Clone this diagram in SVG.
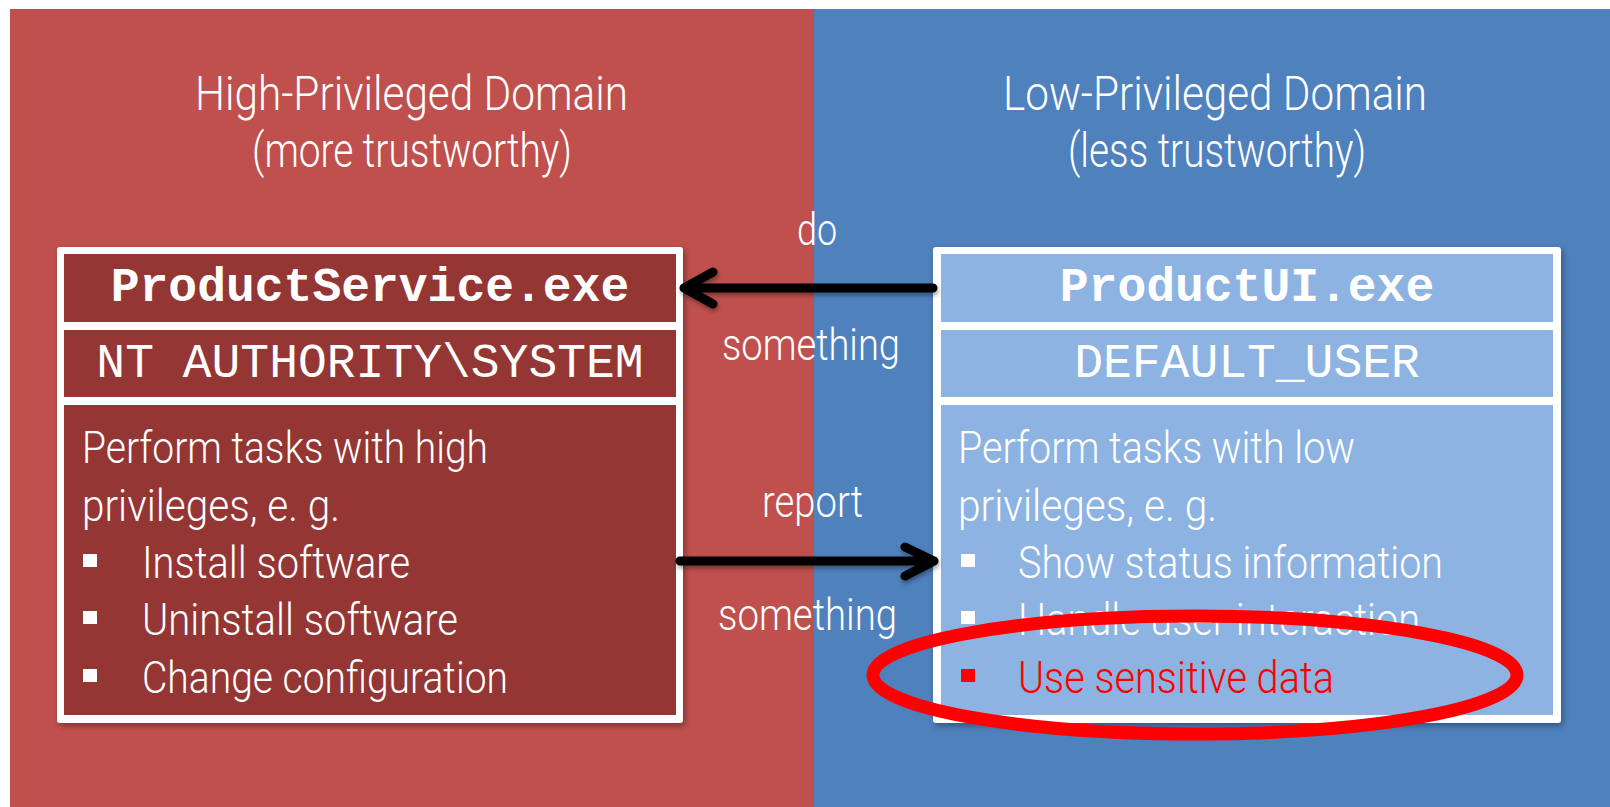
<svg xmlns="http://www.w3.org/2000/svg" width="1610" height="807" viewBox="0 0 1610 807">
<style>
.sans{font-family:Roboto,"Liberation Sans",sans-serif;font-weight:300;fill:#fff;}
.title{font-size:48px;}
.lbl{font-size:44px;}
.body{font-size:44px;}
.mono{font-family:"Liberation Mono","Courier New",monospace;font-size:48px;fill:#fff;text-anchor:middle;}
.bold{font-weight:bold;}
.outer{fill:#fff;}
.hi{fill:#943634;}
.lo{fill:#8DB3E2;}
.bul{fill:#fff;}
.conn{stroke:#000;stroke-width:9;fill:none;stroke-linecap:round;stroke-linejoin:round;}
</style>
<defs>
<filter id="shadow" x="-5%" y="-5%" width="110%" height="115%">
<feDropShadow dx="2" dy="3" stdDeviation="3" flood-color="#000" flood-opacity="0.35"/>
</filter>
<filter id="ashadow" x="-5%" y="-50%" width="110%" height="200%">
<feDropShadow dx="1" dy="3" stdDeviation="2" flood-color="#000" flood-opacity="0.35"/>
</filter>
</defs>
<rect x="0" y="0" width="1610" height="807" fill="#fff"/>
<g id="domain-high">
<rect x="10" y="9" width="804" height="798" fill="#C0504D"/>
<text class="sans title" x="195" y="110" textLength="433" lengthAdjust="spacingAndGlyphs">High-Privileged Domain</text>
<text class="sans title" x="252" y="167" textLength="320" lengthAdjust="spacingAndGlyphs">(more trustworthy)</text>
</g>
<g id="domain-low">
<rect x="814" y="9" width="796" height="798" fill="#4F81BD"/>
<text class="sans title" x="1003" y="110" textLength="424" lengthAdjust="spacingAndGlyphs">Low-Privileged Domain</text>
<text class="sans title" x="1068" y="167" textLength="298" lengthAdjust="spacingAndGlyphs">(less trustworthy)</text>
</g>
<g id="node-productservice">
<rect class="outer" x="57" y="247" width="626" height="476" rx="3" filter="url(#shadow)"/>
<rect class="hi" x="64" y="254" width="612" height="68"/>
<rect class="hi" x="64" y="330" width="612" height="67"/>
<rect class="hi" x="64" y="405" width="612" height="310"/>
<text class="mono bold" x="370" y="301">ProductService.exe</text>
<text class="mono" x="370" y="377">NT AUTHORITY\SYSTEM</text>
<text class="sans body" x="82" y="463" textLength="406" lengthAdjust="spacingAndGlyphs">Perform tasks with high</text>
<text class="sans body" x="82" y="521" textLength="258" lengthAdjust="spacingAndGlyphs">privileges, e. g.</text>
<rect class="bul" x="83" y="554" width="14" height="13"/>
<text class="sans body" x="142" y="578" textLength="268" lengthAdjust="spacingAndGlyphs">Install software</text>
<rect class="bul" x="83" y="611" width="14" height="13"/>
<text class="sans body" x="142" y="635" textLength="316" lengthAdjust="spacingAndGlyphs">Uninstall software</text>
<rect class="bul" x="83" y="669" width="14" height="13"/>
<text class="sans body" x="142" y="693" textLength="366" lengthAdjust="spacingAndGlyphs">Change configuration</text>
</g>
<g id="node-productui">
<rect class="outer" x="933" y="247" width="628" height="476" rx="3" filter="url(#shadow)"/>
<rect class="lo" x="941" y="254" width="612" height="68"/>
<rect class="lo" x="941" y="330" width="612" height="67"/>
<rect class="lo" x="941" y="405" width="612" height="310"/>
<text class="mono bold" x="1247" y="301">ProductUI.exe</text>
<text class="mono" x="1247" y="377">DEFAULT_USER</text>
<text class="sans body" x="958" y="463" textLength="397" lengthAdjust="spacingAndGlyphs">Perform tasks with low</text>
<text class="sans body" x="958" y="521" textLength="259" lengthAdjust="spacingAndGlyphs">privileges, e. g.</text>
<rect class="bul" x="961" y="554" width="14" height="13"/>
<text class="sans body" x="1018" y="578" textLength="425" lengthAdjust="spacingAndGlyphs">Show status information</text>
<rect class="bul" x="961" y="611" width="14" height="13"/>
<text class="sans body" x="1018" y="635" textLength="402" lengthAdjust="spacingAndGlyphs">Handle user interaction</text>
<rect x="961" y="669" width="14" height="13" fill="#FF0000"/>
<text class="sans body" x="1018" y="693" textLength="316" lengthAdjust="spacingAndGlyphs" style="fill:#FF0000">Use sensitive data</text>
</g>
<g id="connectors">
<g filter="url(#ashadow)">
<path class="conn" d="M933 288 L684 288 M713 272 L684 288 L713 304"/>
<path class="conn" d="M680 561 L934 561 M905 547 L934 561 L905 576"/>
</g>
<text class="sans lbl" x="797" y="245" textLength="40" lengthAdjust="spacingAndGlyphs">do</text>
<text class="sans lbl" x="722" y="360" textLength="178" lengthAdjust="spacingAndGlyphs">something</text>
<text class="sans lbl" x="762" y="517" textLength="101" lengthAdjust="spacingAndGlyphs">report</text>
<text class="sans lbl" x="718" y="630" textLength="179" lengthAdjust="spacingAndGlyphs">something</text>
</g>
<g id="highlight">
<ellipse cx="1195" cy="675" rx="322" ry="59" fill="none" stroke="#FF0000" stroke-width="13"/>
</g>
</svg>
